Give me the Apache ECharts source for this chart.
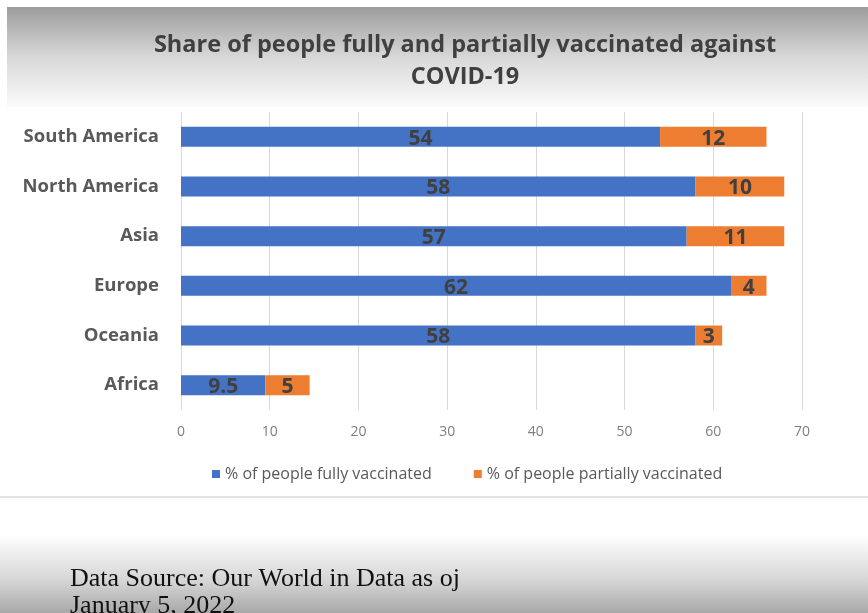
<!DOCTYPE html>
<html>
<head>
<meta charset="utf-8">
<script src="https://cdn.jsdelivr.net/npm/echarts@6/dist/echarts.min.js"></script>
<style>
  html, body { margin: 0; padding: 0; background: #fff; }
  #chart { width: 868px; height: 613px; }
</style>
</head>
<body>
<div id="chart"></div>
<script>
// 数据
const regions = ["South America", "North America", "Asia", "Europe", "Oceania", "Africa"];
const fullyVaccinated = [54, 58, 57, 62, 58, 9.5];
const partiallyVaccinated = [12, 10, 11, 4, 3, 5];
const seriesNames = ["% of people fully vaccinated", "% of people partially vaccinated"];

const chart = echarts.init(document.getElementById("chart"));

const barLabel = {
  show: true,
  position: "inside",
  color: "#404040",
  fontSize: 21,
  fontWeight: "bold",
  fontFamily: "Open Sans",
  offset: [0, 2],
};

chart.setOption({
  animation: false,
  // 幻灯片背景（上下的灰色渐变带）
  graphic: [
    {
      type: "rect",
      z: -10,
      shape: { x: 7, y: 7, width: 861, height: 100 },
      style: {
        fill: new echarts.graphic.LinearGradient(0, 0, 0, 1, [
          { offset: 0, color: "#9c9c9c" },
          { offset: 0.5, color: "#d8d8d8" },
          { offset: 1, color: "#fbfbfb" },
        ]),
      },
    },
    {
      type: "rect",
      z: -10,
      shape: { x: 0, y: 496, width: 868, height: 2 },
      style: { fill: "#e4e4e4" },
    },
    {
      type: "rect",
      z: -10,
      shape: { x: 0, y: 535, width: 868, height: 78 },
      style: {
        fill: new echarts.graphic.LinearGradient(0, 0, 0, 1, [
          { offset: 0, color: "#ffffff" },
          { offset: 0.6, color: "#d4d4d4" },
          { offset: 1, color: "#a8a8a8" },
        ]),
      },
    },
  ],
  title: [
    {
      text: "Share of people fully and partially vaccinated against\nCOVID-19",
      left: 460,
      textAlign: "center",
      top: 24,
      textStyle: {
        color: "#404040",
        fontSize: 23.5,
        fontWeight: "bold",
        fontFamily: "Open Sans",
        lineHeight: 32,
      },
    },
    {
      text: "Data Source: Our World in Data as oj\nJanuary 5, 2022",
      left: 65,
      top: 561,
      textStyle: {
        color: "#111",
        fontSize: 26,
        fontWeight: "normal",
        fontFamily: "Liberation Serif",
        lineHeight: 27,
      },
    },
  ],
  legend: {
    top: 461,
    left: 207,
    itemWidth: 8,
    itemHeight: 8,
    itemGap: 42,
    icon: "rect",
    textStyle: { color: "#595959", fontSize: 16, fontFamily: "Open Sans" },
    data: seriesNames,
  },
  grid: { left: 181, right: 66, top: 112, height: 298, containLabel: false },
  xAxis: {
    type: "value",
    min: 0,
    max: 70,
    interval: 10,
    axisLine: { show: false },
    axisTick: { show: false },
    axisLabel: { color: "#7f7f7f", fontSize: 14, margin: 15, fontFamily: "Open Sans" },
    splitLine: { lineStyle: { color: "#d9d9d9", width: 1 } },
  },
  yAxis: {
    type: "category",
    inverse: true,
    data: regions,
    axisLine: { show: false },
    axisTick: { show: false },
    axisLabel: {
      color: "#595959",
      fontSize: 18.5,
      fontWeight: "bold",
      fontFamily: "Open Sans",
      margin: 22,
    },
  },
  series: [
    {
      name: seriesNames[0],
      type: "bar",
      stack: "total",
      barWidth: 20,
      itemStyle: { color: "#4472C4" },
      label: barLabel,
      data: fullyVaccinated,
    },
    {
      name: seriesNames[1],
      type: "bar",
      stack: "total",
      barWidth: 20,
      itemStyle: { color: "#ED7D31" },
      label: barLabel,
      data: partiallyVaccinated,
    },
  ],
});
</script>
</body>
</html>
